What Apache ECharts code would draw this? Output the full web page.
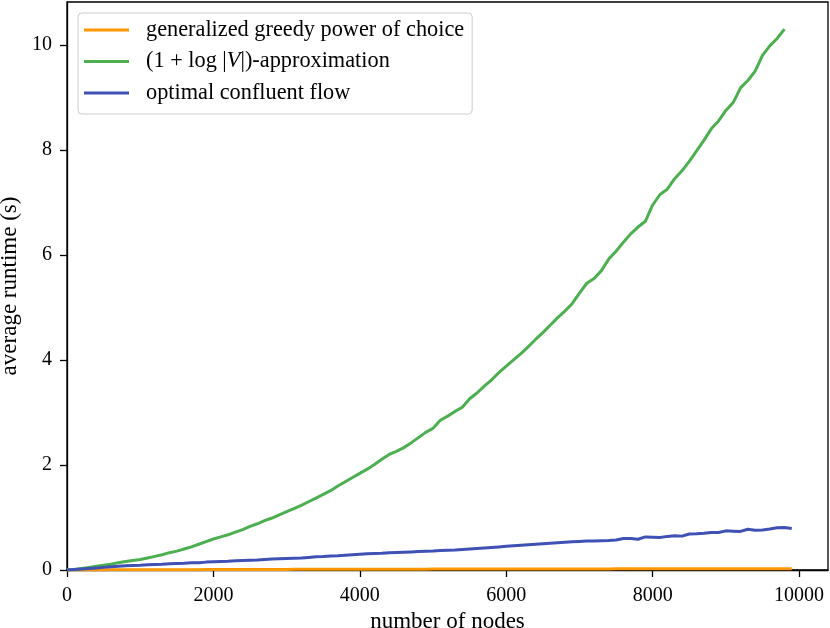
<!DOCTYPE html>
<html>
<head>
<meta charset="utf-8">
<script src="https://cdn.jsdelivr.net/npm/echarts@6/dist/echarts.min.js"></script>
<style>html,body{margin:0;padding:0;background:#fff}#c{width:830px;height:628px}</style>
</head>
<body>
<div id="c"></div>
<script>
const xTicks = [0, 2000, 4000, 6000, 8000, 10000];
const yTicks = [0, 2, 4, 6, 8, 10];
const seriesNames = ['generalized greedy power of choice', '(1 + log |V|)-approximation', 'optimal confluent flow'];
const nodesGreen = [];
for (let i = 0; i <= 98; i++) nodesGreen.push(i * 100);
const nodesOther = [];
for (let i = 0; i <= 99; i++) nodesOther.push(i * 100);

const greedy = [
0,0.001,0.001,0.002,0.002,0.003,0.003,0.003,0.004,0.004,
0.005,0.005,0.005,0.006,0.006,0.006,0.007,0.007,0.007,0.008,
0.008,0.008,0.009,0.009,0.009,0.010,0.010,0.010,0.011,0.011,
0.011,0.012,0.012,0.012,0.013,0.013,0.013,0.013,0.014,0.014,
0.014,0.014,0.015,0.015,0.015,0.015,0.016,0.016,0.016,0.016,
0.017,0.017,0.017,0.017,0.018,0.018,0.018,0.018,0.018,0.019,
0.019,0.019,0.019,0.019,0.020,0.020,0.020,0.020,0.020,0.021,
0.021,0.021,0.021,0.021,0.021,0.022,0.022,0.022,0.022,0.022,
0.022,0.023,0.023,0.023,0.023,0.023,0.023,0.024,0.024,0.024,
0.024,0.024,0.024,0.025,0.025,0.025,0.025,0.025,0.025,0.025];

const approx = [
0.00,0.01,0.03,0.05,0.07,0.09,0.11,0.14,0.16,0.18,
0.20,0.23,0.26,0.29,0.33,0.36,0.40,0.44,0.49,0.54,
0.59,0.63,0.67,0.72,0.77,0.83,0.88,0.94,0.99,1.05,
1.11,1.17,1.23,1.30,1.37,1.44,1.51,1.60,1.68,1.76,
1.84,1.92,2.01,2.11,2.20,2.26,2.33,2.42,2.52,2.62,
2.70,2.85,2.93,3.02,3.10,3.26,3.37,3.50,3.62,3.76,
3.88,4.00,4.12,4.25,4.39,4.52,4.66,4.80,4.93,5.07,
5.27,5.46,5.55,5.70,5.92,6.07,6.24,6.40,6.53,6.64,
6.95,7.15,7.25,7.45,7.60,7.78,7.98,8.18,8.40,8.55,
8.75,8.90,9.18,9.32,9.50,9.80,9.98,10.12,10.30];

const confluent = [
0.00,0.01,0.02,0.03,0.04,0.05,0.06,0.07,0.08,0.085,
0.09,0.10,0.105,0.11,0.12,0.125,0.13,0.14,0.14,0.15,
0.155,0.16,0.165,0.175,0.18,0.185,0.19,0.20,0.21,0.215,
0.22,0.225,0.23,0.24,0.25,0.255,0.265,0.27,0.28,0.29,
0.30,0.31,0.315,0.32,0.33,0.335,0.34,0.345,0.35,0.355,
0.36,0.37,0.375,0.38,0.39,0.40,0.41,0.42,0.43,0.44,
0.45,0.46,0.47,0.48,0.49,0.50,0.51,0.52,0.53,0.54,
0.545,0.55,0.55,0.555,0.56,0.57,0.60,0.60,0.585,0.63,
0.625,0.62,0.64,0.65,0.645,0.685,0.69,0.70,0.715,0.715,
0.745,0.74,0.735,0.775,0.755,0.76,0.78,0.805,0.81,0.79];

const colors = ['#ff9800', '#4caf50', '#3f51b5'];
const FONT = 'Liberation Serif';

function pairs(xs, ys) { return xs.map((x, i) => [x, ys[i]]); }

const chart = echarts.init(document.getElementById('c'), null, {renderer: 'canvas'});
chart.setOption({
  animation: false,
  backgroundColor: '#fff',
  textStyle: {fontFamily: FONT},
  grid: {left: 67, right: 2, top: 2, bottom: 58, outerBoundsMode: 'none', containLabel: false,
    show: true, borderColor: '#000', borderWidth: 1.3, backgroundColor: 'transparent'},
  legend: {
    orient: 'vertical', left: 78, top: 13,
    backgroundColor: 'rgba(255,255,255,0.8)', borderColor: '#cccccc', borderWidth: 1, borderRadius: 4,
    padding: [6, 8, 10, 6],
    itemWidth: 45, itemHeight: 3, itemGap: 9.5, icon: 'rect',
    data: seriesNames,
    formatter: function (n) {
      if (n === seriesNames[1]) return '(1 + log |{i|V}|)-approximation';
      return n;
    },
    textStyle: {fontFamily: FONT, fontSize: 22.3, color: '#000', lineHeight: 20, padding: [0, 0, 0, 12],
      rich: {i: {fontFamily: FONT, fontStyle: 'italic', fontSize: 22.3, color: '#000', lineHeight: 20}}}
  },
  xAxis: {
    type: 'value', min: 0, max: 10395, interval: 2000,
    name: 'number of nodes', nameLocation: 'middle', nameGap: 39,
    nameTextStyle: {fontFamily: FONT, fontSize: 23, color: '#000'},
    axisLine: {lineStyle: {color: '#000', width: 1.3}},
    axisTick: {show: true, length: 7, lineStyle: {color: '#000', width: 1.3}, customValues: xTicks},
    axisLabel: {fontFamily: FONT, fontSize: 20, color: '#000', margin: 16, customValues: xTicks,
      formatter: function (v) { return String(v); }},
    splitLine: {show: false}
  },
  yAxis: {
    type: 'value', min: 0, max: 10.815, interval: 2,
    name: 'average runtime (s)', nameLocation: 'middle', nameGap: 44,
    nameTextStyle: {fontFamily: FONT, fontSize: 23, color: '#000'},
    axisLine: {lineStyle: {color: '#000', width: 1.3}},
    axisTick: {show: true, length: 7, lineStyle: {color: '#000', width: 1.3}, customValues: yTicks},
    axisLabel: {fontFamily: FONT, fontSize: 20, color: '#000', margin: 15, customValues: yTicks,
      formatter: function (v) { return String(v); }},
    splitLine: {show: false}
  },
  series: [
    {name: seriesNames[0], type: 'line', data: pairs(nodesOther, greedy), showSymbol: false, symbol: 'none',
      lineStyle: {color: colors[0], width: 3}, itemStyle: {color: colors[0]}},
    {name: seriesNames[1], type: 'line', data: pairs(nodesGreen, approx), showSymbol: false, symbol: 'none',
      lineStyle: {color: colors[1], width: 3}, itemStyle: {color: colors[1]}},
    {name: seriesNames[2], type: 'line', data: pairs(nodesOther, confluent), showSymbol: false, symbol: 'none',
      lineStyle: {color: colors[2], width: 3}, itemStyle: {color: colors[2]}}
  ]
});
</script>
</body>
</html>
